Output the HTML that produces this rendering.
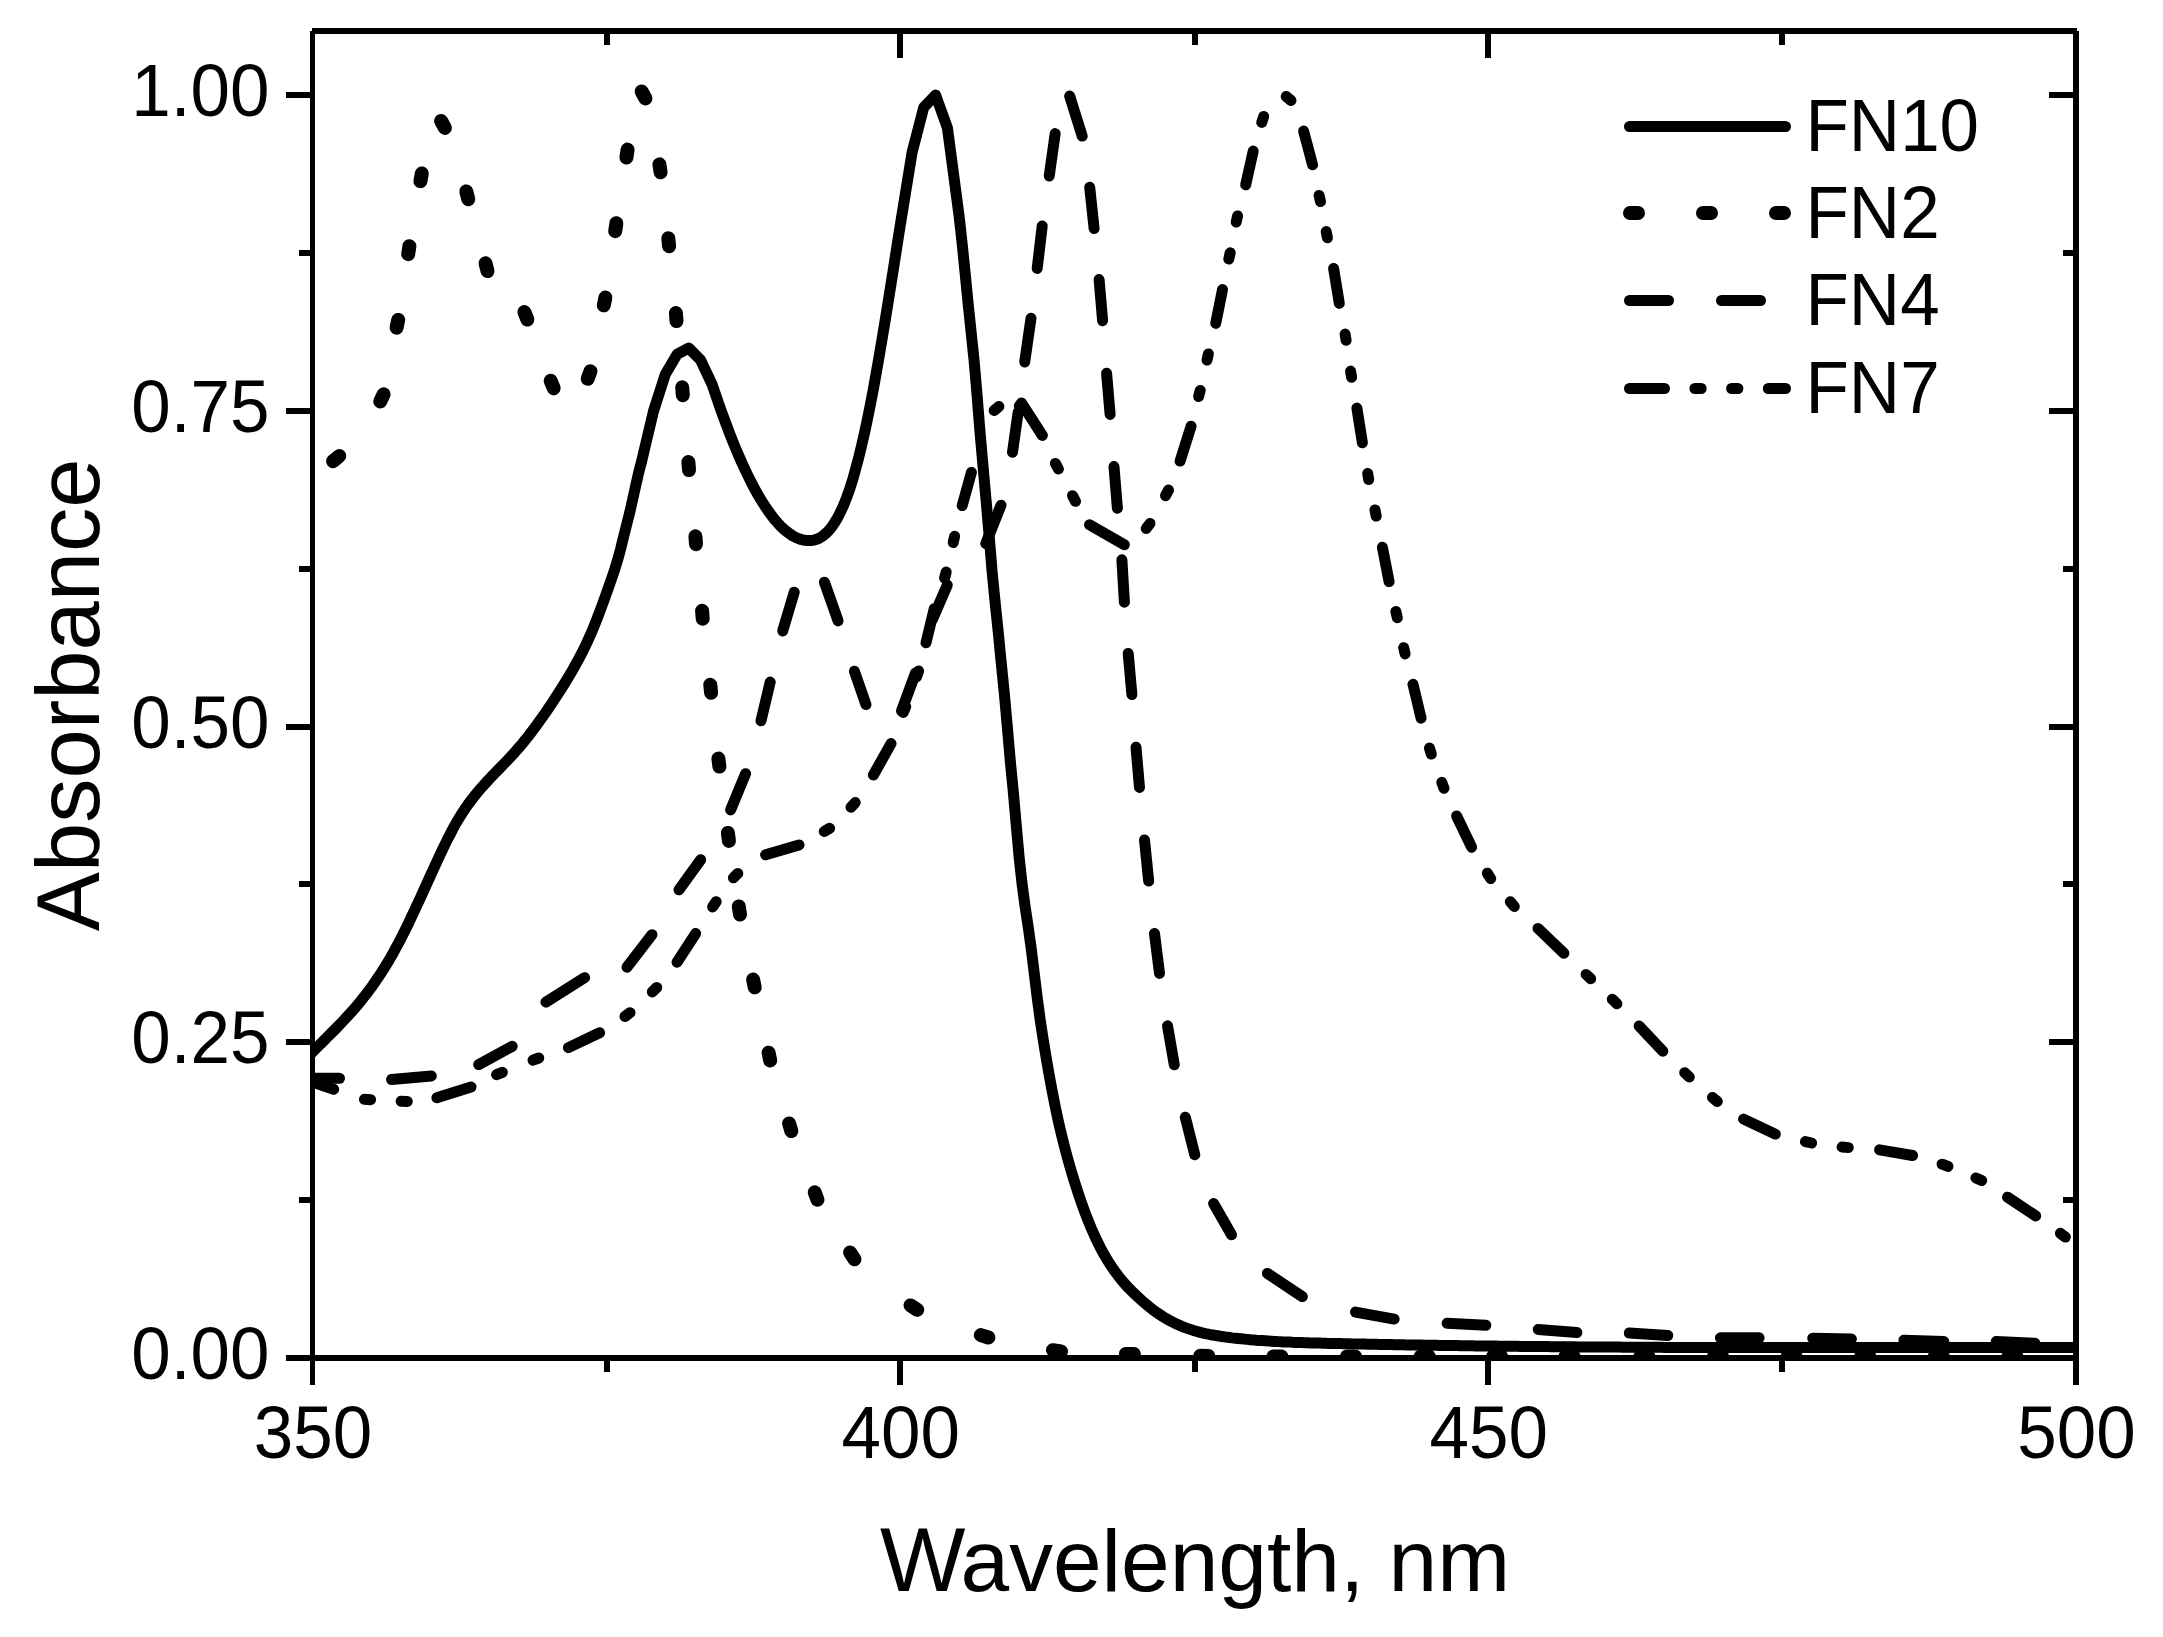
<!DOCTYPE html>
<html lang="en"><head><meta charset="utf-8"><title>Absorbance spectra FN10 FN2 FN4 FN7</title>
<style>html,body{margin:0;padding:0;background:#fff}svg{display:block}text{font-family:"Liberation Sans",Arial,sans-serif;fill:#000}</style></head><body>
<svg width="2163" height="1637" viewBox="0 0 2163 1637">
<rect width="2163" height="1637" fill="#fff"/>
<defs><clipPath id="plot"><rect x="312.5" y="31" width="1763.5" height="1327"/></clipPath></defs>
<g clip-path="url(#plot)" fill="none" stroke="#000" stroke-linecap="round" stroke-linejoin="round">
<polyline stroke-width="11" points="306.5,1058.0 309.5,1055.0 312.5,1051.9 315.5,1048.9 318.5,1045.9 321.5,1043.0 324.5,1040.0 327.4,1037.0 330.4,1034.0 333.4,1031.0 336.4,1028.0 339.4,1024.9 342.4,1021.8 345.4,1018.6 348.4,1015.3 351.4,1012.0 354.4,1008.6 357.4,1005.1 360.4,1001.5 363.4,997.7 366.4,993.9 369.3,990.0 372.3,985.9 375.3,981.6 378.3,977.2 381.3,972.7 384.3,968.0 387.3,963.1 390.3,958.0 393.3,952.7 396.3,947.2 399.3,941.6 402.3,935.8 405.3,929.8 408.3,923.7 411.2,917.4 414.2,911.1 417.2,904.7 420.2,898.2 423.2,891.6 426.2,885.0 429.2,878.4 432.2,871.8 435.2,865.2 438.2,858.7 441.2,852.3 444.2,846.0 447.2,839.9 450.2,834.1 453.1,828.4 456.1,823.1 459.1,818.0 462.1,813.3 465.1,808.7 468.1,804.4 471.1,800.4 474.1,796.5 477.1,792.8 480.1,789.2 483.1,785.8 486.1,782.5 489.1,779.3 492.0,776.1 495.0,773.0 498.0,770.0 501.0,766.9 504.0,763.8 507.0,760.7 510.0,757.5 513.0,754.3 516.0,750.9 519.0,747.5 522.0,744.0 525.0,740.3 528.0,736.6 531.0,732.7 533.9,728.8 536.9,724.7 539.9,720.6 542.9,716.4 545.9,712.1 548.9,707.7 551.9,703.2 554.9,698.6 557.9,694.0 560.9,689.3 563.9,684.5 566.9,679.6 569.9,674.6 572.9,669.5 575.8,664.3 578.8,658.8 581.8,653.1 584.8,647.1 587.8,640.7 590.8,634.0 593.8,626.9 596.8,619.4 599.8,611.5 602.8,603.4 605.8,595.1 608.8,586.6 611.8,578.0 614.8,569.2 617.7,559.7 620.7,548.6 623.7,536.2 626.7,524.5 629.7,512.6 632.7,499.4 635.7,485.6 638.7,472.5 641.7,461.0 653.4,411.5 665.2,374.6 677.0,354.4 688.7,348.0 700.5,359.8 712.2,384.7 715.2,393.6 718.2,402.3 721.2,410.8 724.2,419.0 727.2,427.0 730.1,434.7 733.1,442.2 736.1,449.5 739.1,456.5 742.1,463.2 745.1,469.7 748.1,476.0 751.0,481.9 754.0,487.6 757.0,493.1 760.0,498.2 763.0,503.1 766.0,507.7 769.0,512.0 771.9,516.0 774.9,519.8 777.9,523.2 780.9,526.4 783.9,529.2 786.9,531.7 789.9,533.9 792.8,535.9 795.8,537.5 798.8,538.7 801.8,539.7 804.8,540.3 807.8,540.6 810.8,540.6 813.7,540.1 816.7,539.3 819.7,537.9 822.7,536.1 825.7,533.6 828.7,530.6 831.7,527.0 834.6,522.7 837.6,517.6 840.6,511.8 843.6,505.2 846.6,497.7 849.6,489.3 852.6,480.0 855.5,469.6 858.5,458.3 861.5,446.0 864.5,432.9 867.5,418.9 870.5,404.0 873.5,388.4 876.4,372.0 879.4,354.9 882.4,337.2 885.4,319.0 888.4,300.4 891.4,281.6 894.4,262.7 897.3,243.8 900.3,225.0 912.1,152.3 923.8,107.2 935.6,95.0 947.4,127.8 959.1,216.0 962.1,243.0 965.1,272.9 968.1,303.3 971.1,331.9 974.1,360.7 977.1,395.5 980.1,433.2 983.1,467.1 986.1,500.4 989.1,535.0 992.1,571.6 995.1,602.1 998.1,630.7 1001.1,661.5 1004.2,692.2 1007.2,725.5 1010.2,760.0 1013.2,790.8 1016.2,824.6 1019.2,857.9 1022.2,885.0 1025.2,907.2 1028.2,927.0 1031.2,948.6 1034.2,972.9 1037.2,997.6 1040.2,1020.0 1043.2,1039.7 1046.2,1057.8 1049.2,1075.1 1052.2,1091.3 1055.2,1106.5 1058.2,1120.6 1061.2,1133.5 1064.2,1145.5 1067.2,1156.8 1070.2,1167.4 1073.2,1177.6 1076.2,1187.2 1079.2,1196.3 1082.2,1204.9 1085.2,1213.1 1088.2,1220.8 1091.2,1228.1 1094.2,1234.9 1097.2,1241.3 1100.2,1247.3 1103.2,1252.9 1106.2,1258.1 1109.2,1263.0 1112.2,1267.5 1115.2,1271.8 1118.2,1275.8 1121.2,1279.6 1124.2,1283.1 1127.2,1286.5 1130.3,1289.6 1133.3,1292.6 1136.3,1295.5 1139.3,1298.3 1142.3,1301.0 1145.3,1303.6 1148.3,1306.1 1151.3,1308.5 1154.3,1310.8 1157.3,1312.9 1160.3,1314.9 1163.3,1316.9 1166.3,1318.7 1169.3,1320.3 1172.3,1321.9 1175.3,1323.4 1178.3,1324.8 1181.3,1326.1 1184.3,1327.3 1187.3,1328.4 1190.3,1329.4 1193.3,1330.4 1196.3,1331.3 1199.3,1332.1 1202.3,1332.9 1205.3,1333.6 1208.3,1334.2 1211.3,1334.8 1214.3,1335.3 1217.3,1335.8 1220.3,1336.3 1223.3,1336.7 1226.3,1337.1 1229.3,1337.5 1232.3,1337.9 1235.3,1338.2 1238.3,1338.5 1241.3,1338.8 1244.3,1339.1 1247.3,1339.4 1250.3,1339.7 1253.3,1339.9 1256.4,1340.2 1259.4,1340.4 1262.4,1340.6 1265.4,1340.8 1268.4,1341.0 1271.4,1341.2 1274.4,1341.4 1277.4,1341.6 1280.4,1341.7 1283.4,1341.9 1286.4,1342.0 1289.4,1342.1 1292.4,1342.3 1295.4,1342.4 1298.4,1342.5 1301.4,1342.6 1304.4,1342.7 1307.4,1342.8 1310.4,1342.9 1313.4,1343.0 1316.4,1343.1 1319.4,1343.1 1322.4,1343.2 1325.4,1343.3 1328.4,1343.4 1331.4,1343.4 1334.4,1343.5 1337.4,1343.6 1340.4,1343.6 1343.4,1343.7 1346.4,1343.8 1349.4,1343.8 1352.4,1343.9 1355.4,1343.9 1358.4,1344.0 1361.4,1344.1 1364.4,1344.1 1367.4,1344.2 1370.4,1344.2 1373.4,1344.3 1376.4,1344.3 1379.4,1344.4 1382.4,1344.4 1385.5,1344.5 1388.5,1344.6 1391.5,1344.6 1394.5,1344.7 1397.5,1344.7 1400.5,1344.8 1403.5,1344.8 1406.5,1344.9 1409.5,1344.9 1412.5,1345.0 1415.5,1345.0 1418.5,1345.1 1421.5,1345.1 1424.5,1345.2 1427.5,1345.2 1430.5,1345.2 1433.5,1345.3 1436.5,1345.3 1439.5,1345.4 1442.5,1345.4 1445.5,1345.5 1448.5,1345.5 1451.5,1345.6 1454.5,1345.6 1457.5,1345.6 1460.5,1345.7 1463.5,1345.7 1466.5,1345.8 1469.5,1345.8 1472.5,1345.8 1475.5,1345.9 1478.5,1345.9 1481.5,1345.9 1484.5,1346.0 1487.5,1346.0 1490.5,1346.0 1493.5,1346.1 1496.5,1346.1 1499.5,1346.2 1502.5,1346.2 1505.5,1346.2 1508.5,1346.2 1511.6,1346.3 1514.6,1346.3 1517.6,1346.3 1520.6,1346.4 1523.6,1346.4 1526.6,1346.4 1529.6,1346.5 1532.6,1346.5 1535.6,1346.5 1538.6,1346.5 1541.6,1346.6 1544.6,1346.6 1547.6,1346.6 1550.6,1346.7 1553.6,1346.7 1556.6,1346.7 1559.6,1346.7 1562.6,1346.8 1565.6,1346.8 1568.6,1346.8 1571.6,1346.8 1574.6,1346.8 1577.6,1346.9 1580.6,1346.9 1583.6,1346.9 1586.6,1346.9 1589.6,1347.0 1592.6,1347.0 1595.6,1347.0 1598.6,1347.0 1601.6,1347.0 1604.6,1347.1 1607.6,1347.1 1610.6,1347.1 1613.6,1347.1 1616.6,1347.1 1619.6,1347.1 1622.6,1347.2 1625.6,1347.2 1628.6,1347.2 1631.6,1347.2 1634.6,1347.2 1637.7,1347.2 1640.7,1347.3 1643.7,1347.3 1646.7,1347.3 1649.7,1347.3 1652.7,1347.3 1655.7,1347.3 1658.7,1347.3 1661.7,1347.3 1664.7,1347.4 1667.7,1347.4 1670.7,1347.4 1673.7,1347.4 1676.7,1347.4 1679.7,1347.4 1682.7,1347.4 1685.7,1347.4 1688.7,1347.4 1691.7,1347.5 1694.7,1347.5 1697.7,1347.5 1700.7,1347.5 1703.7,1347.5 1706.7,1347.5 1709.7,1347.5 1712.7,1347.5 1715.7,1347.5 1718.7,1347.5 1721.7,1347.5 1724.7,1347.5 1727.7,1347.5 1730.7,1347.6 1733.7,1347.6 1736.7,1347.6 1739.7,1347.6 1742.7,1347.6 1745.7,1347.6 1748.7,1347.6 1751.7,1347.6 1754.7,1347.6 1757.7,1347.6 1760.7,1347.6 1763.7,1347.6 1766.8,1347.6 1769.8,1347.6 1772.8,1347.6 1775.8,1347.6 1778.8,1347.6 1781.8,1347.6 1784.8,1347.6 1787.8,1347.6 1790.8,1347.6 1793.8,1347.6 1796.8,1347.6 1799.8,1347.6 1802.8,1347.6 1805.8,1347.6 1808.8,1347.6 1811.8,1347.6 1814.8,1347.6 1817.8,1347.6 1820.8,1347.6 1823.8,1347.6 1826.8,1347.6 1829.8,1347.6 1832.8,1347.6 1835.8,1347.6 1838.8,1347.6 1841.8,1347.6 1844.8,1347.6 1847.8,1347.6 1850.8,1347.6 1853.8,1347.6 1856.8,1347.6 1859.8,1347.6 1862.8,1347.6 1865.8,1347.6 1868.8,1347.6 1871.8,1347.6 1874.8,1347.6 1877.8,1347.6 1880.8,1347.6 1883.8,1347.6 1886.8,1347.6 1889.8,1347.6 1892.9,1347.6 1895.9,1347.6 1898.9,1347.6 1901.9,1347.6 1904.9,1347.6 1907.9,1347.6 1910.9,1347.6 1913.9,1347.6 1916.9,1347.6 1919.9,1347.6 1922.9,1347.6 1925.9,1347.6 1928.9,1347.6 1931.9,1347.6 1934.9,1347.6 1937.9,1347.6 1940.9,1347.6 1943.9,1347.6 1946.9,1347.6 1949.9,1347.6 1952.9,1347.6 1955.9,1347.5 1958.9,1347.5 1961.9,1347.5 1964.9,1347.5 1967.9,1347.5 1970.9,1347.5 1973.9,1347.5 1976.9,1347.5 1979.9,1347.5 1982.9,1347.5 1985.9,1347.5 1988.9,1347.5 1991.9,1347.5 1994.9,1347.5 1997.9,1347.5 2000.9,1347.5 2003.9,1347.5 2006.9,1347.5 2009.9,1347.5 2012.9,1347.5 2015.9,1347.5 2019.0,1347.5 2022.0,1347.5 2025.0,1347.5 2028.0,1347.5 2031.0,1347.5 2034.0,1347.5 2037.0,1347.5 2040.0,1347.5 2043.0,1347.5 2046.0,1347.5 2049.0,1347.5 2052.0,1347.5 2055.0,1347.5 2058.0,1347.5 2061.0,1347.5 2064.0,1347.5 2067.0,1347.5 2070.0,1347.5 2073.0,1347.4 2076.0,1347.4 2079.0,1347.4 2082.0,1347.4"/>
<g stroke-width="14">
<path d="M333.1 461.2L339.3 456.0"/>
<path d="M380.2 401.5L383.6 394.3"/>
<path d="M396.6 327.7L398.2 319.9"/>
<path d="M408.2 254.2L409.4 246.2"/>
<path d="M420.4 181.2L421.8 173.4"/>
<path d="M441.1 120.9L444.9 127.9"/>
<path d="M466.3 191.4L468.3 199.2"/>
<path d="M485.5 263.3L487.5 271.1"/>
<path d="M524.4 312.1L527.4 319.5"/>
<path d="M550.7 380.8L553.7 388.2"/>
<path d="M587.7 378.8L590.5 371.2"/>
<path d="M603.8 305.3L605.4 297.5"/>
<path d="M615.2 231.2L616.4 223.2"/>
<path d="M626.4 157.6L627.6 149.6"/>
<path d="M641.6 91.4L645.4 98.4"/>
<path d="M659.4 164.3L660.6 172.3"/>
<path d="M668.3 238.2L669.1 246.2"/>
<path d="M675.9 313.1L676.5 321.1"/>
<path d="M682.2 387.3L682.8 395.3"/>
<path d="M688.4 462.1L689.0 470.1"/>
<path d="M695.4 536.3L696.0 544.3"/>
<path d="M702.1 610.7L702.7 618.7"/>
<path d="M710.3 684.8L711.1 692.8"/>
<path d="M718.4 758.6L719.4 766.6"/>
<path d="M727.9 832.9L728.9 840.9"/>
<path d="M738.8 906.5L740.0 914.5"/>
<path d="M753.1 979.5L754.7 987.3"/>
<path d="M768.6 1052.7L770.2 1060.5"/>
<path d="M789.1 1123.4L791.3 1131.0"/>
<path d="M814.7 1192.3L817.5 1199.7"/>
<path d="M850.1 1252.5L854.5 1259.3"/>
<path d="M910.5 1305.4L917.3 1309.8"/>
<path d="M980.8 1335.1L988.4 1337.5"/>
<path d="M1053.0 1350.2L1061.0 1351.4"/>
<path d="M1125.9 1353.9L1133.9 1354.1"/>
<path d="M1200.3 1355.7L1208.3 1355.9"/>
<path d="M1273.4 1356.5L1281.4 1356.5"/>
<path d="M1347.0 1356.5L1355.0 1356.5"/>
<path d="M1420.7 1356.5L1428.7 1356.5"/>
<path d="M1493.1 1356.5L1501.1 1356.5"/>
<path d="M1565.5 1356.5L1573.5 1356.5"/>
<path d="M1640.4 1356.5L1648.4 1356.5"/>
<path d="M1714.0 1356.5L1722.0 1356.5"/>
<path d="M1787.6 1356.5L1795.6 1356.5"/>
<path d="M1861.2 1356.5L1869.2 1356.5"/>
<path d="M1934.8 1356.5L1942.8 1356.5"/>
<path d="M2008.4 1356.5L2016.4 1356.5"/>
</g>
<g stroke-width="11">
<path d="M305.0 1078.3L339.5 1078.3"/>
<path d="M391.5 1079.6L431.3 1075.9"/>
<path d="M478.7 1064.6L512.2 1046.3"/>
<path d="M545.9 1002.1L584.6 977.7"/>
<path d="M627.0 967.2L652.0 934.7"/>
<path d="M679.0 889.8L700.7 859.8"/>
<path d="M730.6 809.9L745.6 773.7"/>
<path d="M761.0 720.8L770.2 682.1"/>
<path d="M782.7 630.9L794.2 592.2"/>
<path d="M824.4 582.2L838.1 620.9"/>
<path d="M854.4 671.3L866.0 704.6"/>
<path d="M901.5 711.0L915.5 673.0"/>
<path d="M932.5 619.2L947.3 585.0"/>
<path d="M985.8 543.6L1001.0 505.2"/>
<path d="M1012.5 452.3L1018.1 412.5"/>
<path d="M1024.7 362.0L1031.0 318.3"/>
<path d="M1037.2 268.4L1042.2 226.0"/>
<path d="M1049.2 176.0L1055.2 133.6"/>
<path d="M1069.7 96.1L1082.2 136.1"/>
<path d="M1089.7 187.3L1094.1 228.5"/>
<path d="M1099.1 279.6L1102.6 320.8"/>
<path d="M1106.6 373.3L1110.1 414.4"/>
<path d="M1114.0 466.6L1117.4 508.2"/>
<path d="M1121.9 559.8L1124.4 602.2"/>
<path d="M1128.2 653.4L1131.9 694.6"/>
<path d="M1136.0 747.3L1139.5 787.4"/>
<path d="M1144.5 839.9L1148.7 881.1"/>
<path d="M1154.5 933.5L1159.5 973.4"/>
<path d="M1167.5 1025.8L1174.3 1064.8"/>
<path d="M1185.3 1117.2L1194.8 1154.8"/>
<path d="M1213.6 1203.5L1231.5 1234.7"/>
<path d="M1267.4 1273.4L1302.3 1296.6"/>
<path d="M1355.5 1312.1L1394.2 1319.1"/>
<path d="M1447.1 1323.3L1485.8 1325.3"/>
<path d="M1538.2 1329.5L1576.9 1332.5"/>
<path d="M1629.3 1333.0L1667.8 1335.5"/>
<path d="M1720.4 1337.8L1759.1 1337.8"/>
<path d="M1812.7 1338.3L1851.4 1339.0"/>
<path d="M1903.9 1340.3L1943.8 1341.5"/>
<path d="M1996.2 1341.5L2034.9 1343.3"/>
</g>
<g stroke-width="11">
<path d="M305.0 1079.5L333.7 1089.3"/>
<path d="M364.4 1099.3L370.6 1099.7"/>
<path d="M401.1 1101.2L407.3 1101.4"/>
<path d="M436.8 1097.7L471.1 1087.0"/>
<path d="M496.6 1074.7L502.4 1072.3"/>
<path d="M533.0 1060.2L538.8 1058.0"/>
<path d="M568.4 1047.6L599.6 1032.8"/>
<path d="M625.0 1016.5L630.0 1012.7"/>
<path d="M652.3 991.9L656.7 987.5"/>
<path d="M677.0 962.2L695.7 933.5"/>
<path d="M712.6 906.9L716.2 901.7"/>
<path d="M733.4 877.8L737.8 873.4"/>
<path d="M765.6 854.8L799.0 844.9"/>
<path d="M824.2 831.5L829.6 828.3"/>
<path d="M851.0 807.2L855.2 802.6"/>
<path d="M873.4 775.0L891.0 743.6"/>
<path d="M903.3 712.4L905.7 706.6"/>
<path d="M916.4 677.0L918.6 671.0"/>
<path d="M926.0 642.8L934.2 608.8"/>
<path d="M944.6 578.0L946.2 572.0"/>
<path d="M953.2 542.5L954.6 536.3"/>
<path d="M962.2 505.6L971.4 472.4"/>
<path d="M994.1 410.4L998.9 406.4"/>
<path d="M1019.3 406.0L1021.5 403.0L1042.4 435.4"/>
<path d="M1055.4 463.4L1058.4 469.0"/>
<path d="M1072.5 495.7L1075.5 501.3"/>
<path d="M1089.5 524.8L1124.4 544.8"/>
<path d="M1146.2 528.5L1150.0 523.5"/>
<path d="M1165.5 495.7L1168.5 490.1"/>
<path d="M1180.1 461.1L1191.1 426.2"/>
<path d="M1198.6 396.6L1200.2 390.4"/>
<path d="M1207.0 360.1L1208.4 353.9"/>
<path d="M1215.7 323.3L1222.5 289.6"/>
<path d="M1228.8 259.0L1230.2 252.8"/>
<path d="M1236.2 222.1L1237.6 215.9"/>
<path d="M1245.7 184.8L1253.2 151.1"/>
<path d="M1261.7 122.4L1263.7 116.4"/>
<path d="M1286.2 96.6L1291.0 100.6"/>
<path d="M1303.6 131.1L1312.6 164.8"/>
<path d="M1319.1 195.4L1320.5 201.6"/>
<path d="M1326.2 231.6L1327.4 237.8"/>
<path d="M1333.6 268.4L1339.3 303.4"/>
<path d="M1345.1 334.1L1346.1 340.3"/>
<path d="M1350.6 371.1L1351.6 377.3"/>
<path d="M1356.9 408.1L1362.4 442.8"/>
<path d="M1367.7 473.4L1368.7 479.6"/>
<path d="M1375.0 509.9L1376.2 516.1"/>
<path d="M1382.4 547.2L1389.1 581.6"/>
<path d="M1395.9 611.5L1397.3 617.7"/>
<path d="M1403.7 647.7L1405.1 653.9"/>
<path d="M1413.0 684.3L1421.1 718.2"/>
<path d="M1429.5 748.1L1431.3 754.1"/>
<path d="M1441.8 782.3L1444.0 788.3"/>
<path d="M1456.6 816.0L1471.6 847.2"/>
<path d="M1487.3 873.2L1490.7 878.6"/>
<path d="M1510.3 901.8L1514.3 906.6"/>
<path d="M1538.0 928.4L1563.9 953.3"/>
<path d="M1586.1 974.4L1590.7 978.8"/>
<path d="M1612.3 999.3L1616.9 1003.7"/>
<path d="M1639.1 1025.9L1662.9 1051.2"/>
<path d="M1684.7 1072.8L1689.3 1077.0"/>
<path d="M1712.5 1097.5L1717.3 1101.5"/>
<path d="M1743.6 1119.1L1775.3 1134.1"/>
<path d="M1805.4 1141.6L1811.6 1143.0"/>
<path d="M1842.1 1147.0L1848.3 1147.6"/>
<path d="M1879.6 1149.8L1912.6 1155.5"/>
<path d="M1942.0 1164.2L1948.0 1166.4"/>
<path d="M1975.9 1177.9L1981.7 1180.5"/>
<path d="M2007.5 1197.2L2035.7 1215.9"/>
<path d="M2060.4 1233.3L2065.4 1237.1"/>
</g>
</g>
<g fill="#000">
<rect x="310" y="31" width="5" height="1354"/>
<rect x="312" y="28" width="1765" height="6"/>
<rect x="2073" y="31" width="6" height="1354"/>
<rect x="286" y="1355" width="1793" height="6"/>
<rect x="299" y="1197" width="11" height="6"/>
<rect x="2063" y="1197" width="10" height="6"/>
<rect x="286" y="1039" width="24" height="6"/>
<rect x="2049" y="1039" width="24" height="6"/>
<rect x="299" y="881" width="11" height="6"/>
<rect x="2063" y="881" width="10" height="6"/>
<rect x="286" y="724" width="24" height="6"/>
<rect x="2049" y="724" width="24" height="6"/>
<rect x="299" y="566" width="11" height="6"/>
<rect x="2063" y="566" width="10" height="6"/>
<rect x="286" y="408" width="24" height="6"/>
<rect x="2049" y="408" width="24" height="6"/>
<rect x="299" y="250" width="11" height="6"/>
<rect x="2063" y="250" width="10" height="6"/>
<rect x="286" y="92" width="24" height="6"/>
<rect x="2049" y="92" width="24" height="6"/>
<rect x="604" y="34" width="6" height="11"/>
<rect x="604" y="1361" width="6" height="11"/>
<rect x="897" y="34" width="6" height="24"/>
<rect x="897" y="1361" width="6" height="24"/>
<rect x="1192" y="34" width="6" height="11"/>
<rect x="1192" y="1361" width="6" height="11"/>
<rect x="1485" y="34" width="6" height="24"/>
<rect x="1485" y="1361" width="6" height="24"/>
<rect x="1779" y="34" width="6" height="11"/>
<rect x="1779" y="1361" width="6" height="11"/>
</g>
<text transform="translate(269.5 116.0) scale(1 1.035)" font-size="71" text-anchor="end">1.00</text>
<text transform="translate(269.5 431.8) scale(1 1.035)" font-size="71" text-anchor="end">0.75</text>
<text transform="translate(269.5 747.5) scale(1 1.035)" font-size="71" text-anchor="end">0.50</text>
<text transform="translate(269.5 1063.2) scale(1 1.035)" font-size="71" text-anchor="end">0.25</text>
<text transform="translate(269.5 1379.0) scale(1 1.035)" font-size="71" text-anchor="end">0.00</text>
<text transform="translate(313.0 1458.3) scale(1 1.035)" font-size="71" text-anchor="middle">350</text>
<text transform="translate(900.8 1458.3) scale(1 1.035)" font-size="71" text-anchor="middle">400</text>
<text transform="translate(1488.7 1458.3) scale(1 1.035)" font-size="71" text-anchor="middle">450</text>
<text transform="translate(2076.5 1458.3) scale(1 1.035)" font-size="71" text-anchor="middle">500</text>
<text font-size="87.5"><tspan x="880" y="1591" font-size="90.5">W</tspan><tspan x="960.5" y="1591">avelength, nm</tspan></text>
<text transform="translate(99 694.8) rotate(-90) scale(1 1)" font-size="88.6" text-anchor="middle">Absorbance</text>
<g fill="none" stroke="#000" stroke-linecap="round">
<path d="M1629.5 126.5H1785.5" stroke-width="11"/>
<path d="M1630 213H1785.5" stroke-width="14" stroke-dasharray="8 65"/>
<path d="M1629.5 300.5H1785.5" stroke-width="11" stroke-dasharray="39 53"/>
<path d="M1629.5 388.5H1785.5" stroke-width="11" stroke-dasharray="35 30.4 6.3 30.4 6.3 30.4"/>
</g>
<text transform="translate(1805.5 150.6) scale(1 1.035)" font-size="71" text-anchor="start">FN10</text>
<text transform="translate(1805.5 238) scale(1 1.035)" font-size="71" text-anchor="start">FN2</text>
<text transform="translate(1805.5 325) scale(1 1.035)" font-size="71" text-anchor="start">FN4</text>
<text transform="translate(1805.5 412.8) scale(1 1.035)" font-size="71" text-anchor="start">FN7</text>
</svg></body></html>
